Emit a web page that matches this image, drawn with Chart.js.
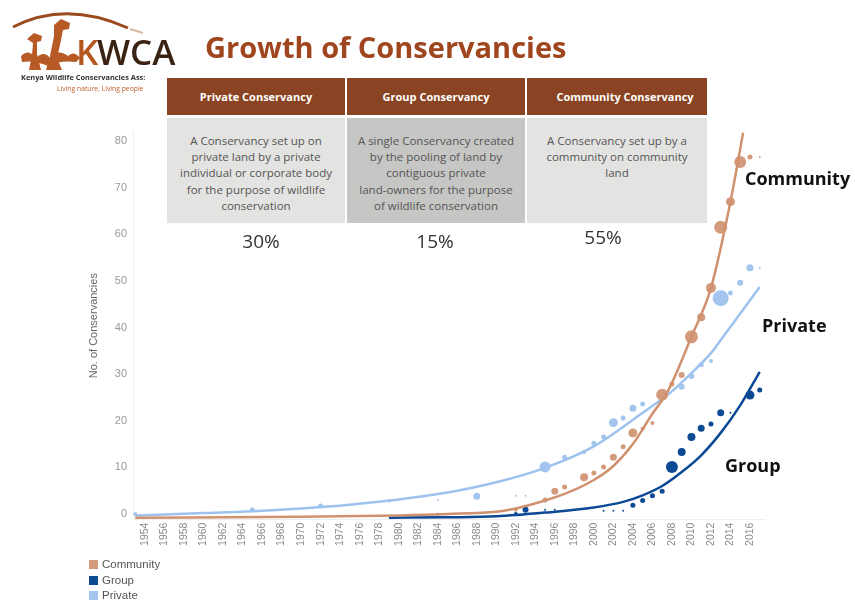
<!DOCTYPE html>
<html>
<head>
<meta charset="utf-8">
<script src="https://cdn.jsdelivr.net/npm/chart.js@4"></script>
<style>
body { margin: 0; background: #fff; }
#wrap { position: relative; width: 855px; height: 604px; overflow: hidden; font-family: "Open Sans", sans-serif; }
#chart { position: absolute; left: 0; top: 0; }
.title { position: absolute; left: 205px; top: 29px; font-size: 29px; font-weight: 700; color: #A0461F; line-height: 36px; white-space: nowrap; }
.hdr { position: absolute; top: 78px; height: 37px; background: #8B4423; color: #fff; font-size: 11px; font-weight: 700; display: flex; align-items: center; justify-content: center; white-space: nowrap; }
.cell { position: absolute; top: 118px; height: 90px; padding-top: 15px; background: #E3E3E1; color: #555; font-size: 11.5px; line-height: 16.2px; text-align: center; white-space: nowrap; }
.pct { position: absolute; top: 228px; width: 178px; text-align: center; font-size: 19px; color: #333; line-height: 26px; }
.lbl { position: absolute; font-size: 18px; font-weight: 700; color: #111; line-height: 24px; white-space: nowrap; }
#legend { position: absolute; left: 89px; top: 557px; font-family: "Liberation Sans", Arial, sans-serif; font-size: 11.5px; color: #555; line-height: 15.5px; }
#legend span.sw { display: inline-block; width: 9px; height: 9px; margin-right: 4px; vertical-align: -1px; }
</style>
</head>
<body>
<div id="wrap">
  <canvas id="chart" width="855" height="604"></canvas>

  <svg style="position:absolute;left:0;top:0" width="200" height="100">
    <path d="M13,27 Q66,0 128,28" stroke="#9B4A1E" stroke-width="3" fill="none"/>
    <path d="M130,29 Q137,31 143,33" stroke="#D9B8A4" stroke-width="2" fill="none"/>
    <path d="M27,39 L34,33 L42,36 L41,41 L37,42 L37,54 L41,70 L29,70 L32,55 L33,43 Z" fill="#B85A25"/>
    <path d="M54,25 L61,19 L70,23 L69,29 L63,30 L60,45 L57,58 L62,70 L46,70 L50,56 L54,36 Z" fill="#B85A25"/>
    <path d="M21,56 Q28,48 36,58 Q44,50 50,58 Q58,48 68,56 Q74,50 80,58 L76,62 Q60,60 48,66 Q34,60 22,62 Z" fill="#B85A25"/>
    <text x="76" y="65" font-family="Open Sans" font-size="35" font-weight="600" fill="#B5561F">K</text>
    <text x="97" y="65" font-family="Open Sans" font-size="35" font-weight="600" fill="#3B2314">WCA</text>
    <text x="21" y="80" font-family="Open Sans" font-size="7.4" font-weight="700" fill="#333">Kenya Wildlife Conservancies Ass:</text>
    <text x="57" y="91" font-family="Open Sans" font-size="6.8" fill="#C0602A">Living nature, Living people</text>
  </svg>

  <div class="title">Growth of Conservancies</div>

  <div class="hdr" style="left:167px;width:178px;">Private Conservancy</div>
  <div class="hdr" style="left:347px;width:178px;">Group Conservancy</div>
  <div class="hdr" style="left:527px;width:180px;padding-left:16px;box-sizing:border-box;">Community Conservancy</div>

  <div class="cell" style="left:167px;width:178px;">A Conservancy set up on<br>private land by a private<br>individual or corporate body<br>for the purpose of wildlife<br>conservation</div>
  <div class="cell" style="left:347px;width:178px;background:#C6C6C4;">A single Conservancy created<br>by the pooling of land by<br>contiguous private<br>land-owners for the purpose<br>of wildlife conservation</div>
  <div class="cell" style="left:527px;width:180px;">A Conservancy set up by a<br>community on community<br>land</div>

  <div class="pct" style="left:172px;">30%</div>
  <div class="pct" style="left:346px;">15%</div>
  <div class="pct" style="left:514px;top:224px;">55%</div>

  <div class="lbl" style="left:745px;top:166px;">Community</div>
  <div class="lbl" style="left:762px;top:313px;">Private</div>
  <div class="lbl" style="left:725px;top:453px;">Group</div>

  <div id="legend"></div>
</div>

<script>
const tickYears = [1954, 1956, 1958, 1960, 1962, 1964, 1966, 1968, 1970, 1972, 1974, 1976, 1978, 1980, 1982, 1984,
  1986, 1988, 1990, 1992, 1994, 1996, 1998, 2000, 2002, 2004, 2006, 2008, 2010, 2012, 2014, 2016];
const yTicks = [0, 10, 20, 30, 40, 50, 60, 70, 80];

const seriesNames = ['Community', 'Group', 'Private'];
const seriesColors = ['#D49A7C', '#0D4A94', '#A4C5EE'];
const lineColors = ['#D0916F', '#0B4996', '#9EC2EE'];

// scatter points (bubble size = r in px)
const communityYears = [1984, 1992, 1995, 1996, 1997, 1999, 2000, 2001, 2002, 2003, 2004, 2005, 2006, 2007, 2008, 2009, 2010, 2011, 2012, 2013, 2014, 2015, 2016, 2017];
const communityValues = [0, 0.9, 3.0, 4.9, 5.8, 7.9, 8.8, 10.1, 12.2, 14.4, 17.4, 18.3, 19.5, 25.6, 27.9, 29.8, 38.0, 42.2, 48.5, 61.5, 67.0, 75.5, 76.6, 76.6];
const communitySizes = [1.5, 2, 2.5, 3.5, 2.5, 4, 2.5, 2.5, 3.5, 2.5, 4.5, 2, 2, 6, 2.5, 3, 6.5, 4, 5, 6.5, 4.5, 6, 2.5, 1];

const groupYears = [1992, 1993, 1995, 1996, 2001, 2002, 2003, 2004, 2005, 2006, 2007, 2008, 2009, 2010, 2011, 2012, 2013, 2014, 2016, 2017];
const groupValues = [0, 0.9, 0.9, 0.9, 0.7, 0.7, 0.7, 1.9, 2.9, 3.9, 4.9, 10.1, 13.3, 16.5, 18.4, 19.3, 21.7, 21.7, 25.5, 26.6];
const groupSizes = [2, 3, 1, 1, 1, 1, 1, 2.5, 2.5, 2.5, 2.5, 6, 4, 4, 3.5, 2.5, 3.5, 1, 4.5, 2.5];

const privateYears = [1953, 1965, 1972, 1979, 1984, 1988, 1992, 1993, 1995, 1997, 1999, 2000, 2001, 2002, 2003, 2004, 2005, 2009, 2010, 2011, 2012, 2013, 2014, 2015, 2016, 2017];
const privateValues = [0, 0.9, 1.7, 2.8, 3.0, 3.8, 3.9, 3.9, 10.1, 12.2, 13.3, 15.2, 16.5, 19.6, 20.6, 22.7, 23.6, 27.3, 29.6, 32.0, 32.8, 46.3, 47.4, 49.6, 52.8, 52.8];
const privateSizes = [2, 2.5, 2.5, 1.5, 1, 3.5, 1, 1, 5.5, 2.5, 2, 2.5, 2.5, 4.5, 2.5, 3.5, 2.5, 3, 3, 2.5, 2, 8, 2.5, 3, 3.5, 1];

// trend lines
const communityTrendYears = [1953, 1970, 1980, 1985, 1990, 1992, 1995, 1997, 2000, 2002, 2004, 2006, 2007.6, 2010, 2012, 2014, 2015.3];
const communityTrendValues = [-0.8, -0.6, -0.3, 0, 0.5, 1.2, 2.9, 4.3, 7.3, 10.3, 15.0, 21.5, 26.4, 38, 48.5, 67, 81.8];

const groupTrendYears = [1979, 1985, 1990, 1995, 2000, 2003, 2005, 2007, 2009, 2011, 2013, 2015, 2017];
const groupTrendValues = [-0.8, -0.7, -0.5, 0.3, 1.4, 2.6, 4.0, 6.0, 9.0, 12.6, 17.4, 23.3, 30.5];

const privateTrendYears = [1953, 1960, 1965, 1970, 1975, 1980, 1985, 1990, 1995, 2000, 2005, 2008, 2010, 2012, 2013, 2015, 2017];
const privateTrendValues = [-0.3, 0.2, 0.6, 1.2, 2.0, 3.1, 4.6, 6.8, 9.9, 14.5, 21.7, 26.3, 30.2, 34.5, 37.3, 43, 48.7];

function bubbles(xs, ys, rs) {
  return xs.map((x, i) => ({ x: x, y: ys[i], r: rs[i] }));
}
function trend(xs, ys) {
  return xs.map((x, i) => ({ x: x, y: ys[i] }));
}

function lineSet(i, data) {
  return {
    type: 'line',
    label: seriesNames[i] + ' trend',
    data: data,
    borderColor: lineColors[i],
    borderWidth: 2.5,
    pointRadius: 0,
    fill: false,
    cubicInterpolationMode: 'monotone',
    clip: false
  };
}
function bubbleSet(i, data) {
  return {
    type: 'bubble',
    label: seriesNames[i],
    data: data,
    backgroundColor: seriesColors[i],
    borderWidth: 0,
    clip: false
  };
}

const datasets = [
  lineSet(0, trend(communityTrendYears, communityTrendValues)),
  bubbleSet(0, bubbles(communityYears, communityValues, communitySizes)),
  lineSet(1, trend(groupTrendYears, groupTrendValues)),
  bubbleSet(1, bubbles(groupYears, groupValues, groupSizes)),
  lineSet(2, trend(privateTrendYears, privateTrendValues)),
  bubbleSet(2, bubbles(privateYears, privateValues, privateSizes))
];

const chartFont = '"Liberation Sans", Arial, sans-serif';

const chart = new Chart(document.getElementById('chart'), {
  type: 'bubble',
  data: { datasets: datasets },
  options: {
    responsive: false,
    animation: false,
    layout: { padding: { top: 131.7, left: 83, right: 90, bottom: 50.4 } },
    plugins: { legend: { display: false }, tooltip: { enabled: false } },
    scales: {
      x: {
        type: 'linear',
        min: 1952.77,
        max: 2017.54,
        afterBuildTicks: axis => { axis.ticks = tickYears.map(v => ({ value: v })); },
        afterFit: scale => { scale.height = 34; },
        grid: { display: false, drawTicks: false },
        border: { display: true, color: '#EEEEEE' },
        ticks: {
          autoSkip: false,
          minRotation: 90,
          maxRotation: 90,
          padding: 3,
          color: '#8A8A8A',
          font: { family: chartFont, size: 10.5 },
          callback: v => String(v)
        }
      },
      y: {
        min: -1.2,
        max: 82,
        afterBuildTicks: axis => { axis.ticks = yTicks.map(v => ({ value: v })); },
        afterFit: scale => { scale.width = 133 - 83; },
        grid: { display: false, drawTicks: false },
        border: { display: true, color: '#F0F0F0' },
        ticks: {
          padding: 6,
          color: '#999999',
          font: { family: chartFont, size: 11 },
          callback: v => String(v)
        },
        title: {
          display: true,
          text: 'No. of Conservancies',
          color: '#666666',
          font: { family: chartFont, size: 11 }
        }
      }
    }
  }
});

const legend = document.getElementById('legend');
seriesNames.forEach((name, i) => {
  const row = document.createElement('div');
  row.innerHTML = '<span class="sw" style="background:' + seriesColors[i] + '"></span>' + name;
  legend.appendChild(row);
});
</script>
</body>
</html>
